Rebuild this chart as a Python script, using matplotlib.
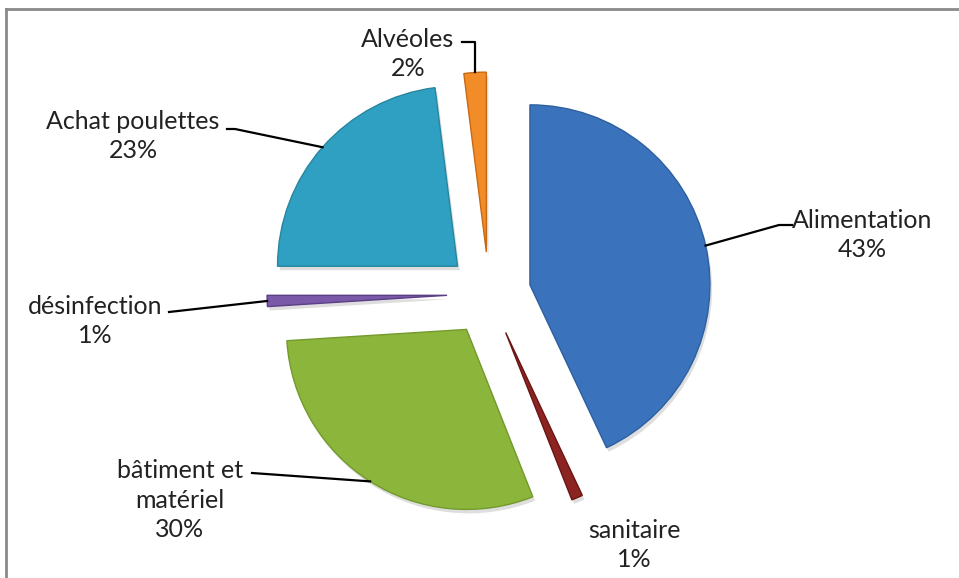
import numpy as np
import matplotlib.pyplot as plt
from matplotlib.lines import Line2D
from matplotlib.patches import Wedge

labels = ["Alimentation", "sanitaire", "bâtiment et\nmatériel", "désinfection",
          "Achat poulettes", "Alvéoles"]
shares = [43, 1, 30, 1, 23, 2]

colors = ["#3a73bc", "#8c2422", "#8cb53c", "#7a5aa8", "#30a0c2", "#f28c28"]
edges = ["#2d5f9f", "#6a1614", "#739a2c", "#5a3e86", "#26869f", "#c86a14"]

W, H = 959, 578
CX, CY, R = 489, 294, 180  # pie centre / radius in pixels


def px(x, y):
    return (x - CX) / R, (CY - y) / R


# label centres and leader points (label side first), in pixels
# a point with x=None is placed straight above/below the wedge anchor
label_pos = [(862, 235), (634, 545), (180, 500), (95, 321), (133, 136), (408, 54)]
leader_pts = [
    [(792, 225), (779, 225)],
    None,
    [(252, 473)],
    [(169, 312)],
    [(227, 129), (235, 129)],
    [(462, 42), (None, 42)],
]

fig = plt.figure(figsize=(W / 100, H / 100), dpi=100)
ax = fig.add_axes([0, 0, 1, 1])

wedges, _ = ax.pie(
    shares,
    colors=colors,
    startangle=90,
    counterclock=False,
    explode=[0.233] * len(shares),
    radius=1,
    wedgeprops=dict(linewidth=1.0),
)

for w, ec in zip(wedges, edges):
    w.set_edgecolor(ec)
    w.set_zorder(3)
    # soft drop shadow
    cx, cy = w.center
    sh = Wedge((cx + 0.012, cy - 0.022), w.r, w.theta1, w.theta2,
               facecolor="black", alpha=0.13, edgecolor="none", zorder=2)
    ax.add_patch(sh)

for w, lab, v, pos, pts in zip(wedges, labels, shares, label_pos, leader_pts):
    mid = np.deg2rad((w.theta1 + w.theta2) / 2)
    ax_, ay_ = w.center[0] + w.r * np.cos(mid), w.center[1] + w.r * np.sin(mid)
    if pts is not None:
        path = []
        for x, y in pts:
            if x is None:
                path.append((ax_, px(0, y)[1]))
            else:
                path.append(px(x, y))
        path.append((ax_, ay_))
        xs, ys = zip(*path)
        ax.plot(xs, ys, color="black", lw=1.6, zorder=4)
    tx, ty = px(*pos)
    ax.text(tx, ty, f"{lab}\n{v}%", ha="center", va="center",
            fontsize=18, family="Lato", color="#222222", linespacing=1.33)

ax.set_xlim(-CX / R, (W - CX) / R)
ax.set_ylim(-(H - CY) / R, CY / R)
ax.set_aspect("equal")
ax.axis("off")

# chart area border (top and left edges visible)
fig.add_artist(Line2D([6 / W, 6 / W], [0, 1 - 9 / H], color="#8a8a8a", lw=2,
                      transform=fig.transFigure))
fig.add_artist(Line2D([6 / W, 1], [1 - 9 / H, 1 - 9 / H], color="#8a8a8a", lw=2,
                      transform=fig.transFigure))

fig.savefig("out.png", dpi=100)
